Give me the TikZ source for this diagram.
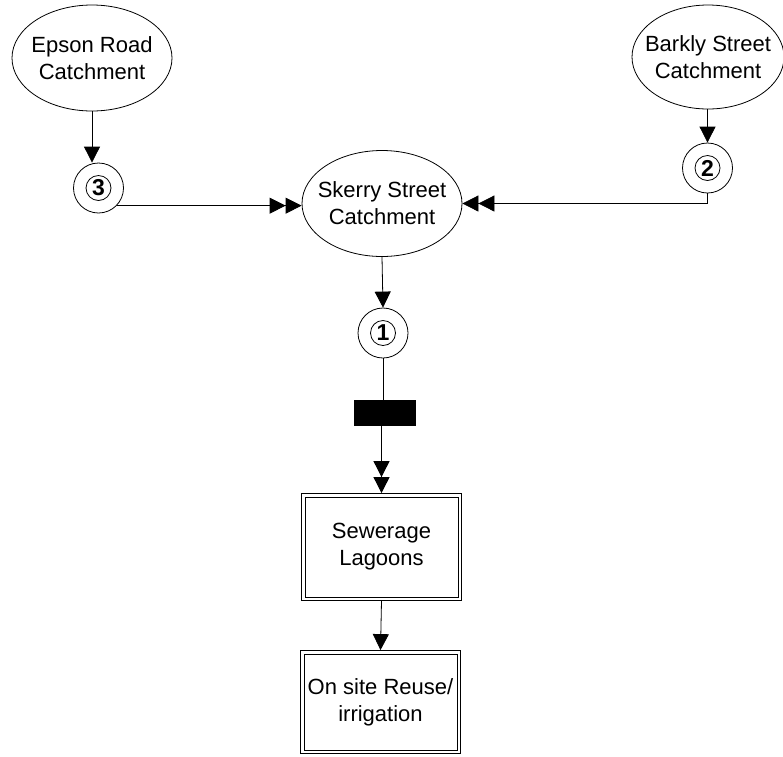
\documentclass[tikz,border=0pt]{standalone}
\usepackage{fontspec}
\setmainfont{Liberation Sans}
\usetikzlibrary{arrows.meta,shapes.geometric}

\begin{document}
\begin{tikzpicture}[x=1pt, y=-1pt, line width=0.8pt,
        catch/.style={draw, ellipse, align=center, font=\fontsize{22}{27}\selectfont,
            minimum width=160pt, minimum height=106pt, inner xsep=-14pt, inner ysep=0pt},
        place/.style={draw, circle, minimum size=50pt, inner sep=0pt},
        num/.style={draw, circle, minimum size=25pt, inner sep=0pt,
            font=\fontsize{23}{23}\selectfont\bfseries},
        store/.style={draw, rectangle, align=center, font=\fontsize{22}{27}\selectfont,
            minimum width=160pt, inner sep=0pt,
            path picture={\draw ([xshift=3.5pt, yshift=-3.5pt]path picture bounding box.north west)
                rectangle ([xshift=-3.5pt, yshift=3.5pt]path picture bounding box.south east);}},
        bar/.style={fill=black, minimum width=62pt, minimum height=26pt, inner sep=0pt},
        tip/.style={-{Triangle[length=16pt, width=16pt]}},
        twotip/.style={-{Triangle[length=16pt, width=16pt, sep=0pt] Triangle[length=16pt, width=16pt]}}]
    \useasboundingbox (0, 0) rectangle (783, 756);

    % catchments
    \node[catch] (epson) at (92, 58) {Epson Road\\Catchment};
    \node[catch, minimum width=152pt, minimum height=104pt] (barkly) at (708, 57) {Barkly Street\\Catchment};
    \node[catch] (skerry) at (382, 203.5) {Skerry Street\\Catchment};

    % pump stations
    \node[place] (p3) at (98.5, 188) {};
    \node[num] (n3) at (p3) {3};
    \node[place] (p2) at (707.5, 168) {};
    \node[num] (n2) at (p2) {2};
    \node[place] (p1) at (383, 333) {};
    \node[num] (n1) at (p1) {1};

    \node[bar] (gate) at (385, 413) {};
    \node[store, minimum height=107pt] (lagoon) at (381.5, 547) {Sewerage\\Lagoons};
    \node[store, minimum height=103pt] (reuse) at (380.5, 702) {On site Reuse/\\irrigation};

    \coordinate (bend) at (p2.south |- skerry.east);

    \draw[tip] (epson.south) -- (epson.south |- p3.north);
    \draw[tip] (barkly.south -| p2.north) -- (p2.north);
    \draw[twotip] (p3.-44) -- (p3.-44 -| skerry.west);
    \draw[twotip] (p2.south) -- (bend) -- (skerry.east);
    \draw[tip] (skerry.south) -- (p1.north);
    \draw (p1.south) -- (gate.north -| p1.south);
    \draw[twotip] (gate.south -| lagoon.north) -- (lagoon.north);
    \draw[tip] (lagoon.south) -- (reuse.north);
\end{tikzpicture}
\end{document}
